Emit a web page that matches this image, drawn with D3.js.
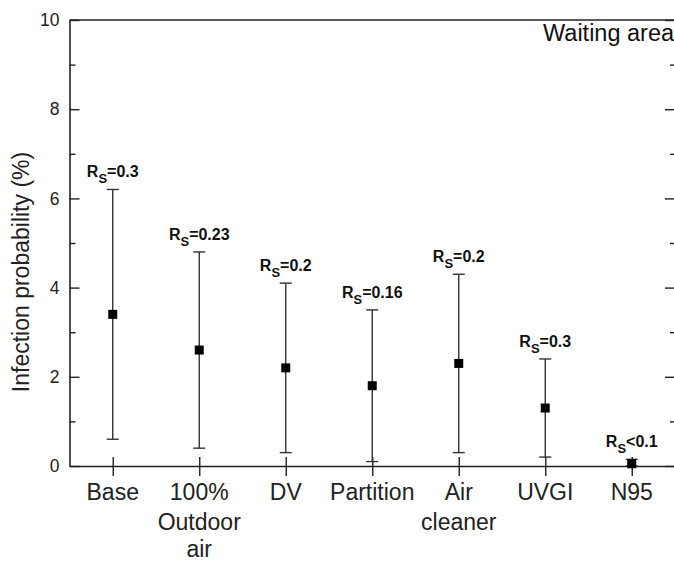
<!DOCTYPE html>
<html>
<head>
<meta charset="utf-8">
<script src="https://cdn.jsdelivr.net/npm/d3@7"></script>
<style>
  html, body { margin: 0; padding: 0; background: #fff; }
  svg { display: block; font-family: "Liberation Sans", Arial, sans-serif; }
</style>
</head>
<body>
<svg id="chart" width="674" height="562"></svg>
<script>
const categories = ["Base", "100% Outdoor air", "DV", "Partition", "Air cleaner", "UVGI", "N95"];
const xTickLabels = [["Base"], ["100%", "Outdoor", "air"], ["DV"], ["Partition"], ["Air", "cleaner"], ["UVGI"], ["N95"]];
const means = [3.4, 2.6, 2.2, 1.8, 2.3, 1.3, 0.05];
const lows  = [0.6, 0.4, 0.3, 0.1, 0.3, 0.2, 0.0];
const highs = [6.2, 4.8, 4.1, 3.5, 4.3, 2.4, 0.15];
const rsOps = ["=", "=", "=", "=", "=", "=", "<"];
const rsValues = ["0.3", "0.23", "0.2", "0.16", "0.2", "0.3", "0.1"];
const yMajorTicks = [0, 2, 4, 6, 8, 10];
const yMinorTicks = [1, 3, 5, 7, 9];
const yTitle = "Infection probability (%)";
const panelTitle = "Waiting area";

const svg = d3.select("#chart");
const L = 69.5, R = 675, T = 20, B = 466;

const x = d3.scalePoint().domain(categories).range([L, R]).padding(0.5);
const y = d3.scaleLinear().domain([0, 10]).range([B, T]);

const axisColor = "#222";

// frame top & right
svg.append("line").attr("x1", L).attr("x2", R).attr("y1", T).attr("y2", T)
  .attr("stroke", axisColor).attr("stroke-width", 1.6);
svg.append("line").attr("x1", R).attr("x2", R).attr("y1", T).attr("y2", B)
  .attr("stroke", axisColor).attr("stroke-width", 1.6);

// left axis major
const gL = svg.append("g").attr("transform", `translate(${L},0)`)
  .call(d3.axisLeft(y).tickValues(yMajorTicks).tickSize(-10).tickPadding(10).tickSizeOuter(0).tickFormat(d3.format("d")));
gL.selectAll(".tick text").attr("font-size", 17.5).attr("fill", "#222").attr("font-family", "Liberation Sans, Arial, sans-serif");
// left minor
svg.append("g").attr("transform", `translate(${L},0)`)
  .call(d3.axisLeft(y).tickValues(yMinorTicks).tickSize(-6).tickFormat(""))
  .call(g => g.select(".domain").remove());

// right axis ticks (inward)
svg.append("g").attr("transform", `translate(${R},0)`)
  .call(d3.axisRight(y).tickValues(yMajorTicks).tickSize(-10).tickFormat(""))
  .call(g => g.select(".domain").remove());
svg.append("g").attr("transform", `translate(${R},0)`)
  .call(d3.axisRight(y).tickValues(yMinorTicks).tickSize(-5).tickFormat(""))
  .call(g => g.select(".domain").remove());

// bottom axis
const gB = svg.append("g").attr("transform", `translate(0,${B})`)
  .call(d3.axisBottom(x).tickSize(10).tickSizeOuter(0).tickFormat(""));
gB.selectAll(".tick line").attr("y1", -9).attr("y2", 10);

svg.selectAll(".domain").attr("stroke", axisColor).attr("stroke-width", 1.6);
svg.selectAll(".tick line").attr("stroke", axisColor).attr("stroke-width", 1.4);

// x tick labels
const xl = svg.append("g").selectAll("text").data(categories).join("text")
  .attr("x", d => x(d)).attr("y", 500)
  .attr("text-anchor", "middle").attr("font-size", 23).attr("fill", "#222");
xl.each(function(d, i) {
  const t = d3.select(this);
  xTickLabels[i].forEach((line, j) => {
    t.append("tspan").attr("x", x(d)).attr("dy", j === 0 ? 0 : (j === 1 ? 30 : 27)).text(line);
  });
});

// y title
svg.append("text")
  .attr("transform", `translate(29,272) rotate(-90)`)
  .attr("text-anchor", "middle").attr("font-size", 23).attr("fill", "#222")
  .text(yTitle);

// panel title
svg.append("text").attr("x", 543).attr("y", 41).attr("font-size", 23.5).attr("fill", "#111").text(panelTitle);

// error bars
const eb = svg.append("g");
categories.forEach((c, i) => {
  const cx = x(c);
  eb.append("line").attr("x1", cx).attr("x2", cx).attr("y1", y(lows[i])).attr("y2", y(highs[i]))
    .attr("stroke", "#333").attr("stroke-width", 1.4);
  [lows[i], highs[i]].forEach(v => {
    eb.append("line").attr("x1", cx - 6).attr("x2", cx + 6).attr("y1", y(v)).attr("y2", y(v))
      .attr("stroke", "#333").attr("stroke-width", 1.4);
  });
});

// markers
svg.append("g").selectAll("rect").data(categories).join("rect")
  .attr("x", d => x(d) - 4.5).attr("y", (d, i) => y(means[i]) - 4.5)
  .attr("width", 9).attr("height", 9).attr("fill", "#000");

// Rs labels
const rl = svg.append("g").selectAll("text").data(categories).join("text")
  .attr("x", d => x(d)).attr("y", (d, i) => y(highs[i]) - 12)
  .attr("text-anchor", "middle").attr("font-size", 16).attr("font-weight", "bold").attr("fill", "#111");
rl.each(function(d, i) {
  const t = d3.select(this);
  t.append("tspan").text("R");
  t.append("tspan").attr("font-size", 13).attr("dy", 6).text("S");
  t.append("tspan").attr("dy", -6).text(rsOps[i] + rsValues[i]);
});
</script>
</body>
</html>
